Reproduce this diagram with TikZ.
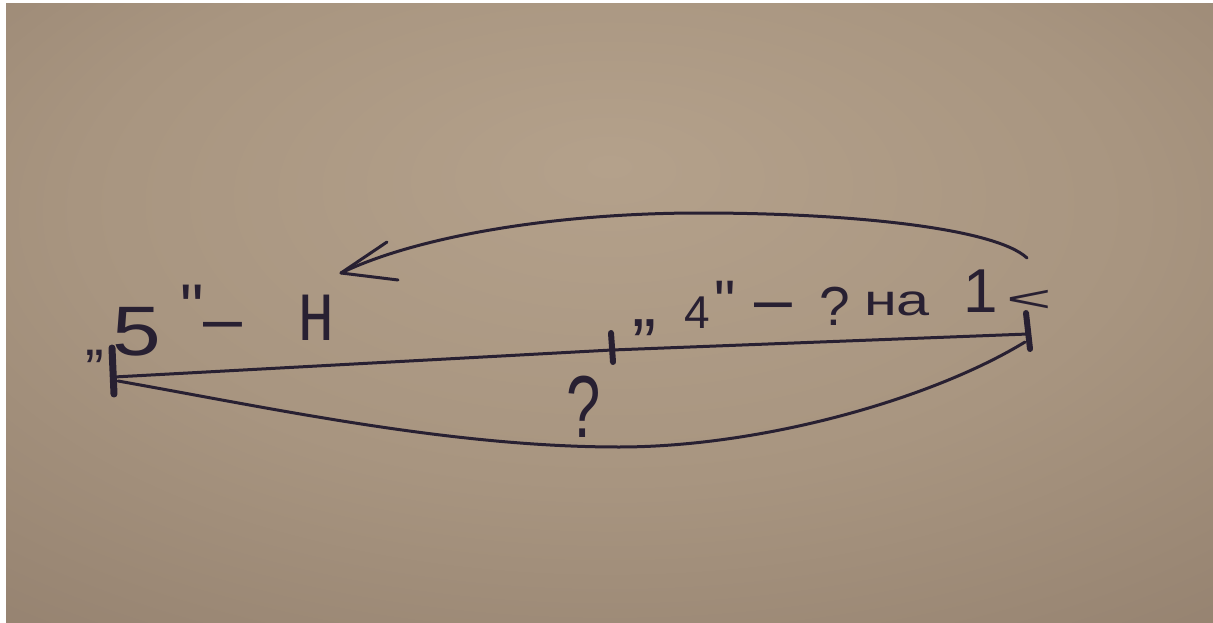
\documentclass[tikz,border=0pt]{standalone}
\usepackage{fontspec}
\usepackage{graphicx}
\setmainfont{Liberation Sans}
\newfontfamily\hw{Liberation Sans}
\newcommand\hsz[1]{\fontsize{#1}{#1}\selectfont}
\definecolor{ink}{RGB}{40,32,50}
\definecolor{pA}{RGB}{180,161,139}
\definecolor{pB}{RGB}{168,149,128}
\definecolor{pC}{RGB}{142,123,106}
\definecolor{pD}{RGB}{100,82,70}
\pgfdeclareradialshading{paper}{\pgfpoint{0bp}{12bp}}{color(0bp)=(pA); color(22bp)=(pB); color(48bp)=(pC); color(75bp)=(pD)}
\tikzset{
  txt/.style={inner sep=0pt, outer sep=0pt, anchor=base west, text=ink, font=\hw},
  pen/.style={draw=ink, line width=3pt, line cap=round, line join=round},
  tick/.style={draw=ink, line width=7pt, line cap=round},
}
\begin{document}
\begin{tikzpicture}[x=1pt,y=-1pt]
\useasboundingbox (0,0) rectangle (1213,623);
\fill[white] (0,0) rectangle (1213,623);
\shade[shading=paper] (6,4) rectangle (1213,623);

% end points
\coordinate (A) at (114,377);
\coordinate (M) at (612,350);
\coordinate (B) at (1028,334);
\coordinate (A2) at (118,381);
\coordinate (Bot) at (619,447);
\coordinate (B2) at (1025,342);
\coordinate (R) at (1027,258);
\coordinate (Top) at (700,213);
\coordinate (L) at (341,273);
\coordinate (h1) at (387,242);
\coordinate (h2) at (398,280);
\coordinate (At) at (112,348); \coordinate (Ab) at (114,394);
\coordinate (Mt) at (611,333); \coordinate (Mb) at (613,362);
\coordinate (Bt) at (1026,313); \coordinate (Bb) at (1030,349);

% straight line through the middle tick
\draw[pen] (A) -- (M) -- (B);
% lower arc
\draw[pen] (A2) .. controls (270,408) and (450,447) .. (Bot)
                .. controls (760,447) and (930,400) .. (B2);
% upper arc with open arrow head
\draw[pen] (R) .. controls (995,228) and (850,213) .. (Top)
               .. controls (560,213) and (420,235) .. (L);
\draw[pen] (L) -- (h1);
\draw[pen] (L) -- (h2);

% ticks
\draw[tick] (At) -- (Ab);
\draw[tick, line width=6pt] (Mt) -- (Mb);
\draw[tick, line width=6pt] (Bt) -- (Bb);

% left label  „5" – н
\node[txt] (lq1) at (85,355) {\hsz{56}„};
\node[txt] (five) at (112,355) {\scalebox{1.25}[1]{\hsz{70}5}};
\node[txt] (rq1) at (180,330) {\hsz{66}"};
\node[txt] (d1) at (203,342) {\hsz{70}–};
\node[txt] (n1) at (298,340) {\scalebox{0.75}[1]{\hsz{86}н}};

% right label  „4" – ? на 1 <
\node[txt] (lq2) at (632,326) {\hsz{72}„};
\node[txt] (four) at (684,328) {\hsz{46}4};
\node[txt] (rq2) at (714,322) {\hsz{60}"};
\node[txt] (d2) at (754,322) {\hsz{68}–};
\node[txt] (q2) at (819,325) {\hsz{55}?};
\node[txt] (na) at (864,315) {\scalebox{1.35}[1]{\hsz{44}на}};
\node[txt] (one) at (963,312) {\hsz{62}1};
\node[txt] (lt) at (1006,311) {\scalebox{1.5}[0.7]{\hsz{52}<}};

% question mark below the middle tick
\node[txt] (q1) at (566,437) {\scalebox{0.7}[1]{\hsz{88}?}};
\end{tikzpicture}
\end{document}
